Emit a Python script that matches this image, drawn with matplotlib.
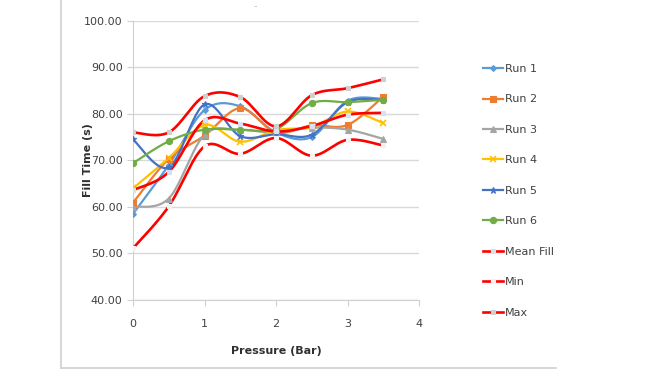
import numpy as np
import matplotlib
matplotlib.use('Agg')
import matplotlib.pyplot as plt
from matplotlib import font_manager
from matplotlib.lines import Line2D

# pick a narrow font if available
names = {f.name for f in font_manager.fontManager.ttflist}
narrow = 'Liberation Sans Narrow' if 'Liberation Sans Narrow' in names else 'DejaVu Sans'
plt.rcParams['font.family'] = [narrow, 'DejaVu Sans']

# Data
pressure = [0, 0.5, 1, 1.5, 2, 2.5, 3, 3.5]
run1 = [58.5, 69.0, 80.8, 81.6, 76.0, 75.0, 82.8, 83.2]
run2 = [60.9, 70.3, 75.3, 81.2, 76.0, 77.5, 77.6, 83.7]
run3 = [60.0, 61.8, 75.5, 76.5, 76.0, 77.0, 76.6, 74.6]
run4 = [64.0, 70.5, 77.6, 74.0, 76.5, 77.2, 80.5, 78.0]
run5 = [74.5, 68.5, 82.0, 75.2, 75.6, 75.5, 82.5, 83.0]
run6 = [69.4, 74.1, 76.6, 76.6, 76.7, 82.3, 82.5, 83.0]
mean_fill = [63.6, 67.5, 78.6, 77.9, 76.2, 77.4, 79.8, 80.2]
min_fill = [51.1, 60.1, 73.0, 71.4, 74.8, 71.0, 74.4, 73.2]
max_fill = [76.0, 76.0, 83.8, 83.6, 77.3, 84.0, 85.5, 87.4]

labels = ['Run 1', 'Run 2', 'Run 3', 'Run 4', 'Run 5', 'Run 6', 'Mean Fill', 'Min', 'Max']
series = [run1, run2, run3, run4, run5, run6, mean_fill, min_fill, max_fill]
colors = ['#5B9BD5', '#ED7D31', '#A5A5A5', '#FFC000', '#4472C4', '#70AD47',
          '#FF0000', '#FF0000', '#FF0000']
markers = ['D', 's', '^', 'x', '*', 'o', 's', 's', 's']
msizes = [3, 4.5, 4, 5, 5, 4.5, 2.5, 2.5, 2.5]
mfaces = colors[:6] + ['#d6e2f0', '#f2f2f2', '#cfcfcf']


def smooth(x, y, n=30):
    # Excel-style smoothed line: cubic bezier through the points
    x = np.asarray(x, float)
    y = np.asarray(y, float)
    px = np.concatenate([[x[0]], x, [x[-1]]])
    py = np.concatenate([[y[0]], y, [y[-1]]])
    t = np.linspace(0, 1, n)
    xs, ys = [], []
    for i in range(1, len(px) - 2):
        p0 = np.array([px[i], py[i]])
        p3 = np.array([px[i + 1], py[i + 1]])
        c1 = p0 + (np.array([px[i + 1], py[i + 1]]) - np.array([px[i - 1], py[i - 1]])) / 6
        c2 = p3 - (np.array([px[i + 2], py[i + 2]]) - np.array([px[i], py[i]])) / 6
        b = ((1 - t) ** 3)[:, None] * p0 + (3 * (1 - t) ** 2 * t)[:, None] * c1 \
            + (3 * (1 - t) * t ** 2)[:, None] * c2 + (t ** 3)[:, None] * p3
        xs.append(b[:, 0])
        ys.append(b[:, 1])
    return np.concatenate(xs), np.concatenate(ys)


fig = plt.figure(figsize=(6.55, 3.88), dpi=100)
ax = fig.add_axes([133 / 655, 1 - 300 / 388, 286 / 655, 279.3 / 388])

handles = []
for y, c, m, ms, mf, lab in zip(series, colors, markers, msizes, mfaces, labels):
    sx, sy = smooth(pressure, y)
    lw = 1.9 if c == '#FF0000' else 1.6
    ax.plot(sx, sy, color=c, lw=lw, zorder=3)
    mec = mf if c == '#FF0000' else c
    ax.plot(pressure, y, ls='none', marker=m, ms=ms, color=c, mfc=mf, mec=mec,
            mew=1.2 if m == 'x' else 0.8, zorder=4)
    handles.append(Line2D([], [], color=c, lw=lw, marker=m, ms=ms, mfc=mf, mec=mec,
                          mew=1.2 if m == 'x' else 0.8))

ax.set_xlim(0, 4)
ax.set_ylim(40, 100)
ax.set_xticks([0, 1, 2, 3, 4])
ax.set_yticks(np.arange(40, 101, 10))
ax.set_yticklabels([f'{v:.2f}' for v in np.arange(40, 101, 10)])
ax.yaxis.grid(True, color='#d9d9d9', lw=1)
ax.set_axisbelow(True)
for s in ['top', 'right']:
    ax.spines[s].set_visible(False)
for s in ['left', 'bottom']:
    ax.spines[s].set_color('#d0d0d0')
ax.tick_params(colors='#d0d0d0', labelcolor='#404040', labelsize=8, length=4)
ax.tick_params(axis='x', pad=10)
ax.set_xlabel('Pressure (Bar)', fontsize=8, fontweight='bold', color='#303030')
ax.set_ylabel('Fill Time (s)', fontsize=8, fontweight='bold', color='#303030')
ax.xaxis.set_label_coords(0.5, -0.165)
ax.yaxis.set_label_coords(-0.14, 0.5)

fig.legend(handles, labels, loc='upper left', bbox_to_anchor=(473 / 655, 1 - 54 / 388),
           frameon=False, fontsize=8, labelspacing=1.84, handlelength=1.8,
           handletextpad=0.2, labelcolor='#404040')

# chart frame remnants and tiny title mark
fig.add_artist(Line2D([61 / 655, 61 / 655], [1, 1 - 368 / 388], color='#d0d0d0', lw=1.2))
fig.add_artist(Line2D([61 / 655, 556 / 655], [1 - 368 / 388, 1 - 368 / 388], color='#d0d0d0', lw=1.2))
fig.text(255 / 655, 1 - 6 / 388, '-', color='#c0c0c0', fontsize=7, ha='center', va='center')

fig.savefig('out.png', dpi=100)
